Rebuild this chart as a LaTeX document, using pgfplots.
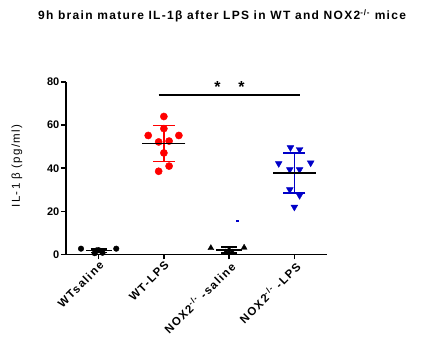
\documentclass[border=0pt]{standalone}
\usepackage{pgfplots}
\pgfplotsset{compat=1.18}
\usepackage{fontspec}
\setmainfont{Liberation Sans}

\definecolor{lpsred}{RGB}{255,0,0}
\definecolor{koblue}{RGB}{0,0,200}

\begin{document}
\begin{tikzpicture}[x=1pt,y=1pt]
\useasboundingbox (0,0) rectangle (448,337);
\begin{axis}[
  at={(66pt,82.5pt)}, anchor=south west,
  scale only axis, width=261pt, height=172.5pt,
  xmin=0.5, xmax=4.5, ymin=0, ymax=80,
  clip=false,
  axis lines=left, axis line style={line width=1.6pt, -},
  xtick={1,2,3,4},
  xticklabels={WTsaline, WT-LPS, NOX2\textsuperscript{-/-} -saline, NOX2\textsuperscript{-/-} -LPS},
  ytick={0,20,40,60,80},
  tick align=outside, major tick length=5pt,
  tick style={line width=1.6pt, black},
  /pgf/number format/assume math mode=true,
  yticklabel style={font=\fontsize{11}{13}\selectfont\bfseries, inner sep=1.5pt},
  xticklabel style={font=\fontsize{11.5}{13}\selectfont\bfseries\addfontfeature{LetterSpace=12},
    rotate=45, anchor=north east, inner sep=0.5pt},
  ylabel={IL-1\,\,β (pg/ml)},
  ylabel style={font=\fontsize{11.5}{14}\selectfont\addfontfeature{LetterSpace=12},
    at={(-0.188,0.513)}, anchor=center},
  title={9h brain mature IL-1β after LPS in WT and NOX2\textsuperscript{-/-} mice},
  title style={font=\fontsize{12}{14}\selectfont\bfseries\addfontfeature{LetterSpace=11},
    at={(0.598,1.347)}, anchor=center, yshift=0pt},
]
% individual animals
\addplot[only marks, mark=*, mark size=2.8pt, black] coordinates {
  (0.73,2.7) (1.27,2.7) (0.94,0.6) (1.06,0.8) (1.0,2.0) (0.97,1.9)};
\addplot[only marks, mark=*, mark size=3.6pt, lpsred] coordinates {
  (2.00,64.0) (2.00,58.4) (1.76,55.2) (2.23,55.2) (1.92,52.2)
  (2.08,52.6) (2.00,47.1) (2.08,41.0) (1.92,38.6)};
\addplot[only marks, mark=triangle*, mark size=3.4pt, black] coordinates {
  (2.72,3.0) (3.23,3.2) (2.95,1.0) (3.05,0.9) (3.0,2.1)};
\addplot[only marks, mark=triangle*, mark size=3.9pt, koblue, mark options={rotate=180}] coordinates {
  (3.94,49.6) (4.08,48.7) (3.76,42.2) (4.25,42.5) (3.93,39.4)
  (4.08,39.4) (3.93,30.1) (4.08,27.4) (4.00,22.0)};
\addplot[only marks, mark=square*, mark size=0.9pt, koblue] coordinates {(3.12,15.7)};

% mean +- SD
\addplot[draw=none, mark=none, error bars/.cd, y dir=both, y explicit,
  error bar style={line width=1.5pt, black},
  error mark options={line width=1.5pt, black, mark size=8pt, rotate=90}]
  coordinates {(1,1.8) +- (0,0.8) (3,2.1) +- (0,1.3)};
\addplot[draw=none, mark=none, error bars/.cd, y dir=both, y explicit,
  error bar style={line width=1.6pt, lpsred},
  error mark options={line width=1.6pt, lpsred, mark size=11pt, rotate=90}]
  coordinates {(2,51.5) +- (0,8.3)};
\addplot[draw=none, mark=none, error bars/.cd, y dir=both, y explicit,
  error bar style={line width=1.6pt, koblue},
  error mark options={line width=1.6pt, koblue, mark size=11pt, rotate=90}]
  coordinates {(4,37.9) +- (0,9.3)};
\addplot[only marks, mark=-, mark size=13pt, mark options={line width=1.6pt}, black]
  coordinates {(1,1.8) (3,2.1)};
\addplot[only marks, mark=-, mark size=21.5pt, mark options={line width=1.6pt}, black]
  coordinates {(2,51.5) (4,37.9)};

% significance bracket
\addplot[black, line width=2pt, mark=none] coordinates {(1.92,74.2) (4.08,74.2)};
\node[font=\fontsize{16}{16}\selectfont\bfseries] at (axis cs:2.82,77.5) {*};
\node[font=\fontsize{16}{16}\selectfont\bfseries] at (axis cs:3.19,77.5) {*};
\end{axis}
\end{tikzpicture}
\end{document}
